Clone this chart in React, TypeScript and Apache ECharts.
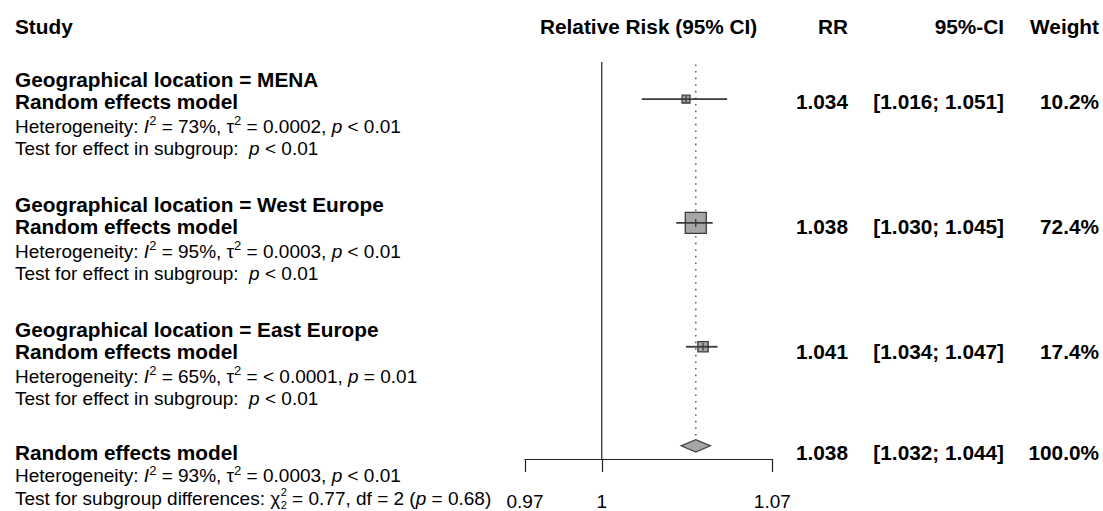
import React, { useEffect, useRef } from "react";
import * as echarts from "echarts";

// ---------- data ----------
const groupNames = ["MENA", "West Europe", "East Europe"];
const groupRR = [1.034, 1.038, 1.041];
const groupLow = [1.016, 1.03, 1.034];
const groupHigh = [1.051, 1.045, 1.047];
const groupWeight = [10.2, 72.4, 17.4];
const groupI2 = ["73%", "95%", "65%"];
const groupTau2 = ["= 0.0002", "= 0.0003", "= < 0.0001"];
const groupPHet = ["< 0.01", "< 0.01", "= 0.01"];
const groupPEffect = ["< 0.01", "< 0.01", "< 0.01"];
const groupRows = [4, 9, 14];

const overallRR = 1.038;
const overallLow = 1.032;
const overallHigh = 1.044;
const overallWeight = 100.0;
const overallI2 = "93%";
const overallTau2 = "= 0.0003";
const overallPHet = "< 0.01";
const overallRow = 18;
const chiSq = "0.77";
const chiDf = "2";
const pDiff = "0.68";

const tickValues = [0.97, 1, 1.07];
const axisMin = 0.97;
const axisMax = 1.07;

// ---------- layout ----------
const W = 1103;
const H = 511;
const ROW = 25;
const GRID_LEFT = 525;
const GRID_RIGHT = W - 772.3;
const GRID_H = 463.3;
const FONT = "'Liberation Sans', Arial, Helvetica, sans-serif";
const FS = 19;
const FSB = 20.8;
const SUP = 13;
const SUB_FS = 11;
const X_LEFT = 15;
const X_RR = 848;
const X_CI = 1004;
const X_W = 1099;
const SQ_K = 21 / Math.sqrt(72.4);

const baseRich = {
  i: { fontStyle: "italic", fontSize: FS, fontFamily: FONT, fill: "#000", lineHeight: 24 },
  sup: { fontSize: SUP, fontFamily: FONT, fill: "#000", lineHeight: SUP, verticalAlign: "top" },
};

function txt(x: number, y: number, text: string, opts: any = {}) {
  const fs = opts.fontSize || (opts.bold ? FSB : FS);
  return {
    type: "text",
    x,
    y,
    silent: true,
    style: {
      text,
      fill: "#000",
      fontSize: fs,
      fontWeight: opts.bold ? "bold" : "normal",
      fontFamily: FONT,
      align: opts.align || "left",
      verticalAlign: "middle",
      lineHeight: opts.lineHeight || 24,
      rich: baseRich,
    },
  };
}

const fmt3 = (v: number) => v.toFixed(3);

export default function App() {
  const ref = useRef<HTMLDivElement>(null);

  useEffect(() => {
    if (!ref.current) return;
    const chart = echarts.init(ref.current, null, { renderer: "svg" });

    const ctx = document.createElement("canvas").getContext("2d") as CanvasRenderingContext2D;
    const measure = (s: string, size: number, style = "") => {
      ctx.font = `${style} ${size}px ${FONT}`;
      return ctx.measureText(s).width;
    };

    const ln = Math.log;
    const tickLn = tickValues.map((v) => ln(v));

    const studyData = groupRR.map((v, i) => [ln(v), ln(groupLow[i]), ln(groupHigh[i]), groupRows[i], groupWeight[i]]);
    const diamondData = [[ln(overallRR), ln(overallLow), ln(overallHigh), overallRow]];

    const graphics: any[] = [];
    // header
    graphics.push(txt(X_LEFT, 26, "Study", { bold: true }));
    graphics.push(txt(GRID_LEFT + (W - GRID_RIGHT - GRID_LEFT) / 2, 26, "Relative Risk (95% CI)", { bold: true, align: "center" }));
    graphics.push(txt(X_RR, 26, "RR", { bold: true, align: "right" }));
    graphics.push(txt(X_CI, 26, "95%-CI", { bold: true, align: "right" }));
    graphics.push(txt(X_W, 26, "Weight", { bold: true, align: "right" }));

    groupNames.forEach((g, i) => {
      const y = groupRows[i] * ROW;
      graphics.push(txt(X_LEFT, y - 21, `Geographical location = ${g}`, { bold: true }));
      graphics.push(txt(X_LEFT, y + 1, "Random effects model", { bold: true }));
      graphics.push(
        txt(X_LEFT, y + 26, `Heterogeneity: {i|I}{sup|2} = ${groupI2[i]}, τ{sup|2} ${groupTau2[i]}, {i|p} ${groupPHet[i]}`)
      );
      graphics.push(txt(X_LEFT, y + 48, `Test for effect in subgroup:  {i|p} ${groupPEffect[i]}`));
      graphics.push(txt(X_RR, y + 1, fmt3(groupRR[i]), { bold: true, align: "right" }));
      graphics.push(txt(X_CI, y + 1, `[${fmt3(groupLow[i])}; ${fmt3(groupHigh[i])}]`, { bold: true, align: "right" }));
      graphics.push(txt(X_W, y + 1, `${groupWeight[i].toFixed(1)}%`, { bold: true, align: "right" }));
    });

    const oy = overallRow * ROW;
    graphics.push(txt(X_LEFT, oy + 2.5, "Random effects model", { bold: true, lineHeight: 20 }));
    graphics.push(
      txt(X_LEFT, oy + 25.5, `Heterogeneity: {i|I}{sup|2} = ${overallI2}, τ{sup|2} ${overallTau2}, {i|p} ${overallPHet}`)
    );
    // subgroup-difference test line: chi-square with stacked super/subscript
    const ty = oy + 48;
    const part1 = "Test for subgroup differences: χ";
    const x2 = X_LEFT + measure(part1, FS) + 0.5;
    graphics.push(txt(X_LEFT, ty, part1, { lineHeight: 20 }));
    graphics.push(txt(x2, ty - 6, "2", { fontSize: SUB_FS, lineHeight: 11 }));
    graphics.push(txt(x2, ty + 6.8, chiDf, { fontSize: SUB_FS, lineHeight: 11 }));
    const x3 = x2 + measure("2", SUB_FS);
    graphics.push(txt(x3, ty, ` = ${chiSq}, df = ${chiDf} ({i|p} = ${pDiff})`, { lineHeight: 20 }));

    graphics.push(txt(X_RR, oy + 2, fmt3(overallRR), { bold: true, align: "right" }));
    graphics.push(txt(X_CI, oy + 2, `[${fmt3(overallLow)}; ${fmt3(overallHigh)}]`, { bold: true, align: "right" }));
    graphics.push(txt(X_W, oy + 2, `${overallWeight.toFixed(1)}%`, { bold: true, align: "right" }));

    const option: any = {
      animation: false,
      grid: { left: GRID_LEFT, right: GRID_RIGHT, top: 0, height: GRID_H, containLabel: false },
      xAxis: {
        type: "value",
        position: "bottom",
        min: ln(axisMin),
        max: ln(axisMax),
        splitLine: { show: false },
        axisLine: { show: true, onZero: false, lineStyle: { color: "#222", width: 1.2 } },
        axisTick: { show: true, length: 13, customValues: tickLn, lineStyle: { color: "#222", width: 1.2 } },
        axisLabel: {
          customValues: tickLn,
          margin: 33,
          fontSize: FS,
          fontFamily: FONT,
          color: "#000",
          formatter: (v: number) => {
            let best = 0;
            tickLn.forEach((t, k) => {
              if (Math.abs(t - v) < Math.abs(tickLn[best] - v)) best = k;
            });
            return String(tickValues[best]);
          },
        },
      },
      yAxis: { type: "value", inverse: true, min: 0, max: GRID_H / ROW, show: false },
      series: [
        {
          type: "custom",
          name: "ref",
          clip: false,
          data: [[0, 2.5, GRID_H / ROW]],
          encode: { x: 0, y: 1 },
          renderItem: (_p: any, api: any) => {
            const a = api.coord([api.value(0), api.value(1)]);
            const b = api.coord([api.value(0), api.value(2)]);
            return {
              type: "line",
              shape: { x1: a[0], y1: a[1], x2: b[0], y2: b[1] },
              style: { stroke: "#222", lineWidth: 1.2 },
            };
          },
        },
        {
          type: "custom",
          name: "summaryLine",
          clip: false,
          data: [[ln(overallRR), 2.6, overallRow - 0.25]],
          encode: { x: 0, y: 1 },
          renderItem: (_p: any, api: any) => {
            const a = api.coord([api.value(0), api.value(1)]);
            const b = api.coord([api.value(0), api.value(2)]);
            return {
              type: "line",
              shape: { x1: a[0], y1: a[1], x2: b[0], y2: b[1] },
              style: { stroke: "#666", lineWidth: 1.6, lineDash: [1.6, 5] },
            };
          },
        },
        {
          type: "custom",
          name: "studies",
          clip: false,
          data: studyData,
          encode: { x: [0, 1, 2], y: 3 },
          renderItem: (_p: any, api: any) => {
            const row = api.value(3);
            const c = api.coord([api.value(0), row]);
            const lo = api.coord([api.value(1), row]);
            const hi = api.coord([api.value(2), row]);
            const s = SQ_K * Math.sqrt(api.value(4));
            const v = Math.min(s * 0.75, 8) / 2;
            return {
              type: "group",
              children: [
                {
                  type: "rect",
                  shape: { x: c[0] - s / 2, y: c[1] - s / 2, width: s, height: s },
                  style: { fill: "#a6a6a6", stroke: "#3a3a3a", lineWidth: 1.3 },
                },
                {
                  type: "line",
                  shape: { x1: lo[0], y1: c[1], x2: hi[0], y2: c[1] },
                  style: { stroke: "#3a3a3a", lineWidth: 1.8 },
                },
                {
                  type: "line",
                  shape: { x1: c[0], y1: c[1] - v, x2: c[0], y2: c[1] + v },
                  style: { stroke: "#3a3a3a", lineWidth: 1.3 },
                },
              ],
            };
          },
        },
        {
          type: "custom",
          name: "overall",
          clip: false,
          data: diamondData,
          encode: { x: [0, 1, 2], y: 3 },
          renderItem: (_p: any, api: any) => {
            const row = api.value(3);
            const c = api.coord([api.value(0), row]);
            const lo = api.coord([api.value(1), row]);
            const hi = api.coord([api.value(2), row]);
            const top = api.coord([api.value(0), row - 0.25]);
            const bot = api.coord([api.value(0), row + 0.25]);
            return {
              type: "polygon",
              shape: { points: [[lo[0], c[1]], [c[0], top[1]], [hi[0], c[1]], [c[0], bot[1]]] },
              style: { fill: "#a6a6a6", stroke: "#444", lineWidth: 1.3 },
            };
          },
        },
      ],
      graphic: graphics,
    };

    chart.setOption(option);
    return () => chart.dispose();
  }, []);

  return (
    <div
      ref={ref}
      style={{ position: "absolute", left: 0, top: 0, width: W, height: H, background: "#fff" }}
    />
  );
}
